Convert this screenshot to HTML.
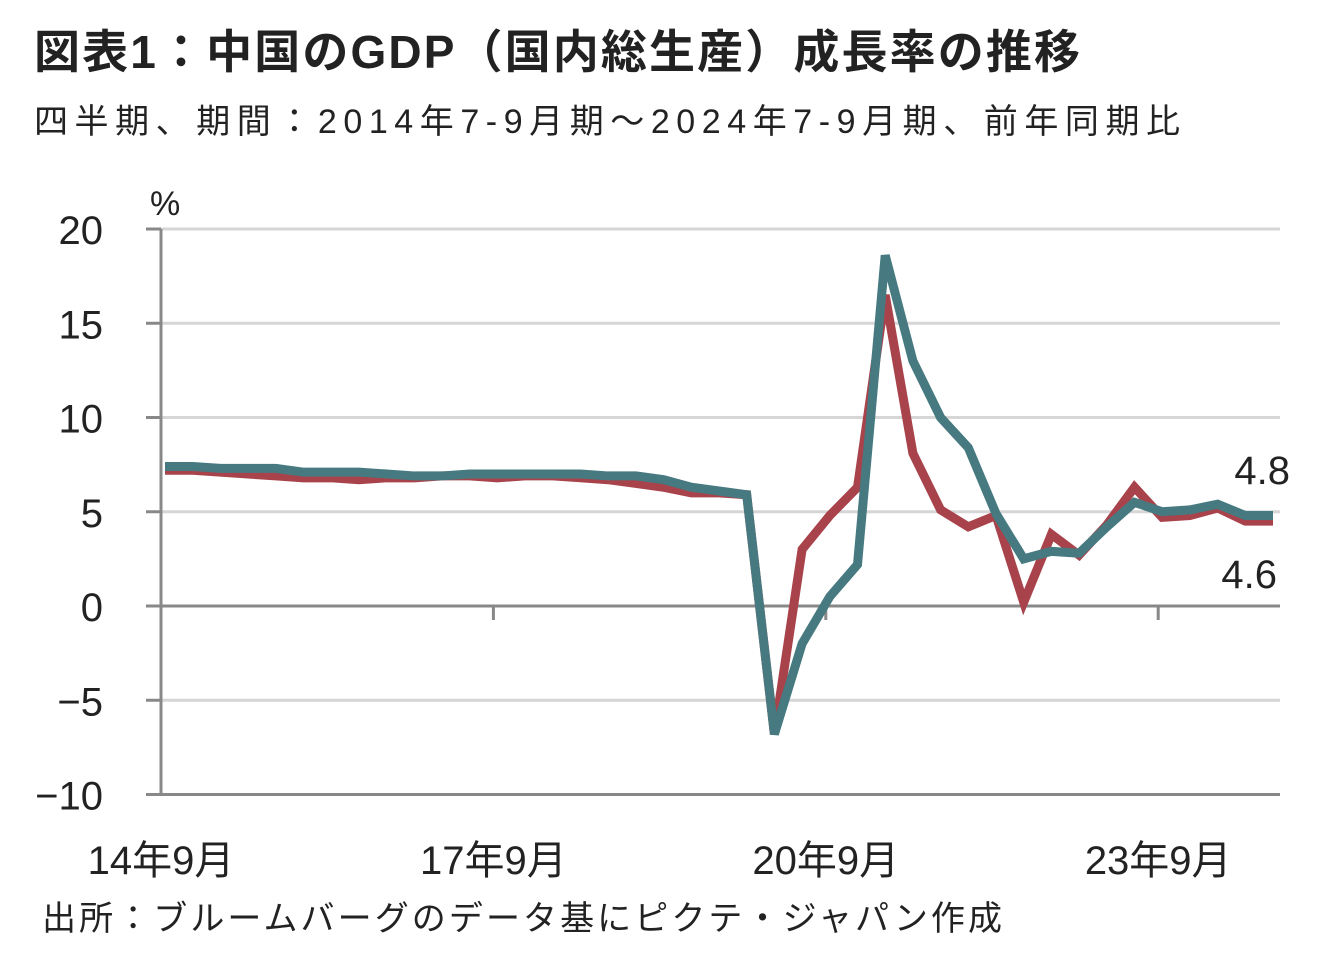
<!DOCTYPE html>
<html><head><meta charset="utf-8"><style>
body{margin:0;background:#fff;width:1319px;height:963px;overflow:hidden;font-family:"Liberation Sans","Noto Sans CJK JP",sans-serif;}
svg text{font-family:"Liberation Sans","Noto Sans CJK JP",sans-serif;fill:#222;}
</style></head><body>
<svg width="1319" height="963">
<text x="34" y="68" font-size="46" font-weight="bold" fill="#333" textLength="1046" lengthAdjust="spacing">図表1：中国のGDP（国内総生産）成長率の推移</text>
<text x="34" y="133" font-size="34" textLength="1146" lengthAdjust="spacing">四半期、期間：2014年7-9月期～2024年7-9月期、前年同期比</text>
<text x="150" y="215" font-size="34">%</text>
<g id="grid"></g><g id="axes"></g><g id="series"></g>
<text x="1290" y="484" font-size="40" text-anchor="end">4.8</text>
<text x="1277" y="588" font-size="40" text-anchor="end">4.6</text>
<text x="42" y="930" font-size="34" textLength="960" lengthAdjust="spacing">出所：ブルームバーグのデータ基にピクテ・ジャパン作成</text>
</svg>
<script>
const yTicks=[20,15,10,5,0,-5,-10];
const xTickIdx=[0,12,24,36];
const xTickLabels=["14年9月","17年9月","20年9月","23年9月"];
const redSeries=[7.2,7.2,7.1,7.0,6.9,6.8,6.8,6.7,6.8,6.8,6.9,6.9,6.8,6.9,6.9,6.8,6.7,6.5,6.3,6.0,6.0,5.9,-6.8,3.0,4.8,6.3,16.5,8.1,5.1,4.2,4.8,0.2,3.8,2.7,4.3,6.3,4.7,4.8,5.2,4.5,4.5];
const tealSeries=[7.4,7.4,7.3,7.3,7.3,7.1,7.1,7.1,7.0,6.9,6.9,7.0,7.0,7.0,7.0,7.0,6.9,6.9,6.7,6.3,6.1,5.9,-6.8,-2.0,0.5,2.2,18.6,13.0,10.0,8.4,4.9,2.5,2.9,2.8,4.2,5.5,5.0,5.1,5.4,4.8,4.8];
const NS="http://www.w3.org/2000/svg";
const X=i=>165+i*27.7, Y=v=>606-v*18.85;
function mk(tag,attrs,parent){const e=document.createElementNS(NS,tag);for(const k in attrs)e.setAttribute(k,attrs[k]);document.getElementById(parent).appendChild(e);return e;}
yTicks.forEach(v=>{
  const g=mk('line',{x1:161,x2:1280,y1:Y(v),y2:Y(v),stroke:v===0?'#888':(v===-10?'#888':'#d6d6d6'),'stroke-width':3},'grid');
  
  
  const t=mk('line',{x1:146,x2:161,y1:Y(v),y2:Y(v),stroke:'#888','stroke-width':3},'axes');
  
  
  const l=mk('text',{x:103,y:Y(v)+15,'font-size':40,'text-anchor':'end'},'axes');l.textContent=(v<0?'−':'')+Math.abs(v);
  
  
});
const ax=mk('line',{x1:161,x2:161,y1:Y(20),y2:Y(-10),stroke:'#888','stroke-width':3},'axes');


xTickIdx.forEach((idx,k)=>{
  const xx=X(idx)-4;
  const t=mk('line',{x1:xx,x2:xx,y1:606,y2:620,stroke:'#888','stroke-width':3},'axes');
  
  
  const l=mk('text',{x:xx,y:874,'font-size':40,'text-anchor':'middle'},'axes');l.textContent=xTickLabels[k];
  
  
});
function line(data,color,name){
  const p=mk('polyline',{points:data.map((v,i)=>X(i)+','+Y(v)).join(' '),fill:'none',stroke:color,'stroke-width':9,'stroke-linejoin':'miter','stroke-miterlimit':3},'series');
  
  
}
line(redSeries,'#a8434b','red-series-line');
line(tealSeries,'#477980','teal-series-line');
</script>
</body></html>
